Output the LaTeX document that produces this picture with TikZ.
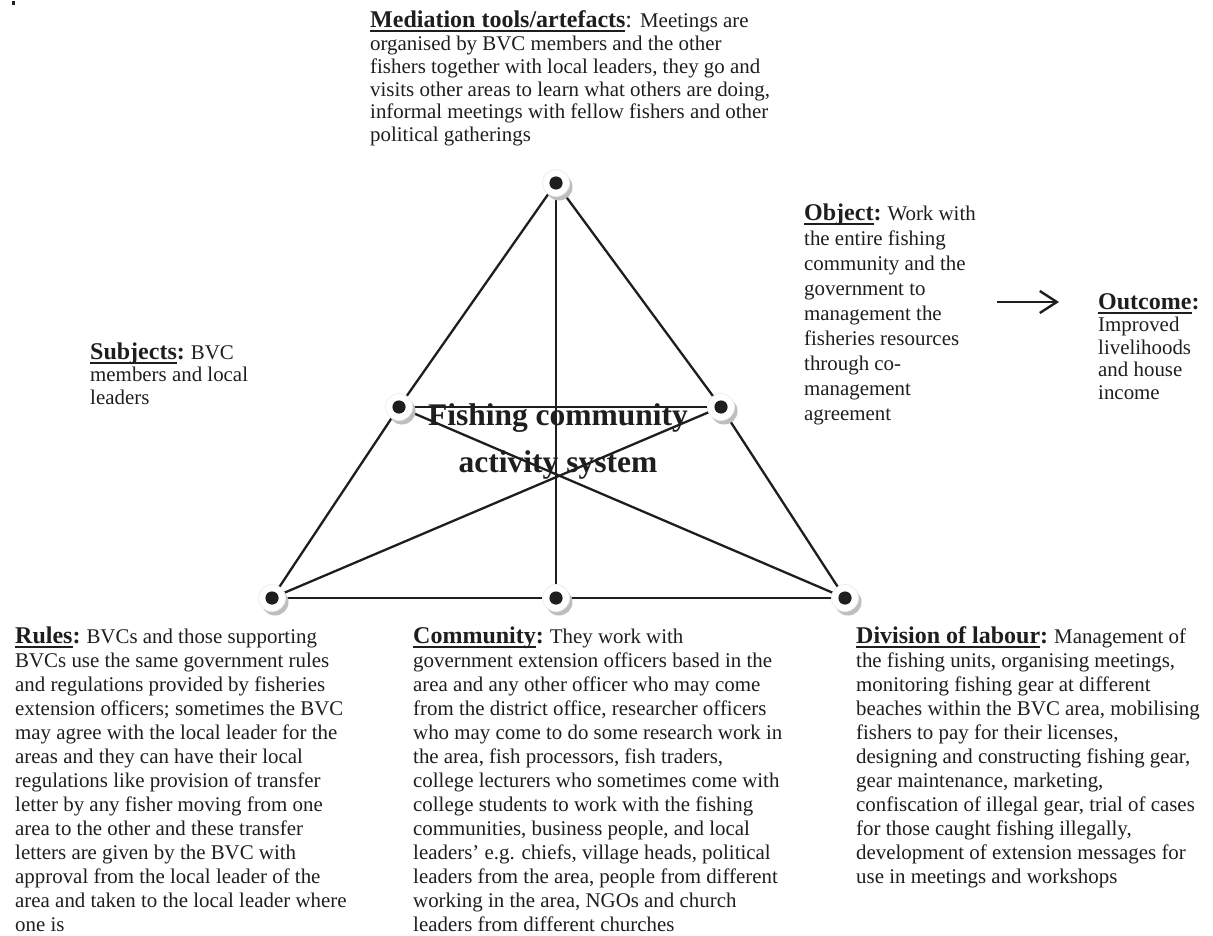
\documentclass[tikz,border=0pt]{standalone}
\usepackage{fontspec}
\setmainfont{Liberation Serif}
\usetikzlibrary{arrows.meta,shadows,backgrounds}

\definecolor{ink}{RGB}{30,30,30}
\definecolor{shade}{RGB}{190,190,190}

% headings are set a little larger than the body text
\newcommand{\hdfont}{\fontsize{24}{24}\selectfont}
% bold heading with a thick underline
\newcommand{\ulhd}[1]{\leavevmode\setbox0=\hbox{\hdfont\bfseries #1}\rlap{\rule[-4.5pt]{\wd0}{2pt}}\box0}
% bold colon (and space) that follow a heading
\newcommand{\hdc}{{\hdfont\bfseries :\ }}
% ragged text block whose reference point is the first baseline
\newcommand{\blk}[3]{\parbox[t]{#1}{\fontsize{20.9}{#2}\selectfont\raggedright #3}}

\tikzset{
  dotnode/.style={circle, fill=white, draw=black!7, line width=0.8pt,
    minimum size=27pt, inner sep=0pt,
    drop shadow={shadow xshift=3pt, shadow yshift=-4pt, fill=shade, opacity=1},
    path picture={\fill[ink] (path picture bounding box.center) circle (6.6pt);}},
  link/.style={ink, line width=2.3pt},
  txt/.style={inner sep=0pt, anchor=base west, text=ink},
  flow/.style={ink, line width=2.4pt, -{Straight Barb[length=17pt, width=22pt, line width=2.4pt]}}
}

\begin{document}
\begin{tikzpicture}[x=1pt, y=-1pt]
\useasboundingbox (0,0) rectangle (1213,936);
\fill[ink] (11.5,1) rectangle (15,5);

% the six points of the activity triangle
\node[dotnode] (top)  at (556,183) {};
\node[dotnode] (lmid) at (399,407) {};
\node[dotnode] (rmid) at (721,407) {};
\node[dotnode] (bl)   at (272,598) {};
\node[dotnode] (bm)   at (556,598) {};
\node[dotnode] (br)   at (845,598) {};

\begin{pgfonlayer}{background}
  \draw[link] (top.center) -- (lmid.center) -- (bl.center);
  \draw[link] (top.center) -- (rmid.center) -- (br.center);
  \draw[link] (top.center) -- (bm.center);
  \draw[link] (bl.center) -- (bm.center) -- (br.center);
  \draw[link] (lmid.center) -- (rmid.center);
  \draw[link] (lmid.center) -- (br.center);
  \draw[link] (rmid.center) -- (bl.center);
\end{pgfonlayer}

\node[inner sep=0pt, anchor=base, text=ink] (title) at (558,425)
  {\parbox[t]{400pt}{\centering\fontsize{31.5}{47}\selectfont\bfseries Fishing community\\activity system}};

\node[txt] (mediation) at (370,28) {\blk{420pt}{22.7}{\ulhd{Mediation tools/artefacts}{\hdfont: }Meetings are\\organised by BVC members and the other\\fishers together with local leaders, they go and\\visits other areas to learn what others are doing,\\informal meetings with fellow fishers and other\\political gatherings}};

\node[txt] (object) at (804,221) {\blk{200pt}{24.9}{\ulhd{Object}\hdc Work with\\the entire fishing\\community and the\\government to\\management the\\fisheries resources\\through co-\\management\\agreement}};

\node[txt] (outcome) at (1098,309) {\blk{120pt}{22.6}{\ulhd{Outcome}{\hdfont\bfseries :}\\Improved\\livelihoods\\and house\\income}};

\coordinate (arrS) at (997,302);
\coordinate (arrE) at (1059,302);
\draw[flow] (arrS) -- (arrE);

\node[txt] (subjects) at (90,359) {\blk{200pt}{22.6}{\ulhd{Subjects}\hdc BVC\\members and local\\leaders}};

\node[txt] (rules) at (15,643) {\blk{390pt}{24.0}{\ulhd{Rules}\hdc BVCs and those supporting\\BVCs use the same government rules\\and regulations provided by fisheries\\extension officers; sometimes the BVC\\may agree with the local leader for the\\areas and they can have their local\\regulations like provision of transfer\\letter by any fisher moving from one\\area to the other and these transfer\\letters are given by the BVC with\\approval from the local leader of the\\area and taken to the local leader where\\one is}};

\node[txt] (community) at (413,643) {\blk{420pt}{24.0}{\ulhd{Community}\hdc They work with\\government extension officers based in the\\area and any other officer who may come\\from the district office, researcher officers\\who may come to do some research work in\\the area, fish processors, fish traders,\\college lecturers who sometimes come with\\college students to work with the fishing\\communities, business people, and local\\leaders’ e.g. chiefs, village heads, political\\leaders from the area, people from different\\working in the area, NGOs and church\\leaders from different churches}};

\node[txt] (division) at (856,643) {\blk{360pt}{24.0}{\ulhd{Division of labour}\hdc Management of\\the fishing units, organising meetings,\\monitoring fishing gear at different\\beaches within the BVC area, mobilising\\fishers to pay for their licenses,\\designing and constructing fishing gear,\\gear maintenance, marketing,\\confiscation of illegal gear, trial of cases\\for those caught fishing illegally,\\development of extension messages for\\use in meetings and workshops}};
\end{tikzpicture}
\end{document}
